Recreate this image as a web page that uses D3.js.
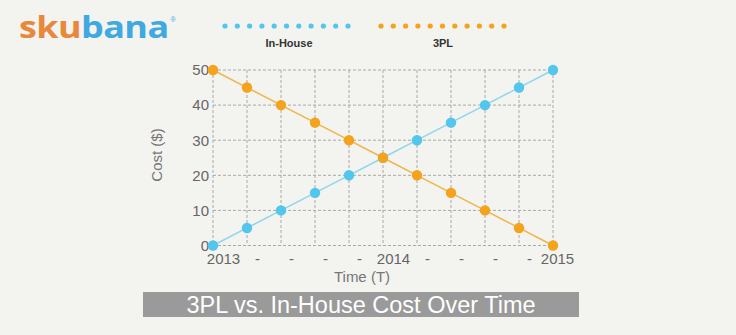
<!DOCTYPE html>
<html>
<head>
<meta charset="utf-8">
<script src="https://cdn.jsdelivr.net/npm/d3@7"></script>
<style>
  html, body { margin: 0; padding: 0; background: #f3f3ef; }
  svg { display: block; }
</style>
</head>
<body>
<svg id="chart" width="736" height="335"></svg>
<script>
// Period labels along the time axis
const categories = ["2013", "-", "-", "-", "-", "2014", "-", "-", "-", "-", "2015"];
// Cost ($) per period
const inHouse = [0, 5, 10, 15, 20, 25, 30, 35, 40, 45, 50];
const thirdParty = [50, 45, 40, 35, 30, 25, 20, 15, 10, 5, 0];
const yTicks = [0, 10, 20, 30, 40, 50];
const seriesNames = ["In-House", "3PL"];

const svg = d3.select("#chart");
const W = 736, H = 335;

svg.append("rect").attr("width", W).attr("height", H).attr("fill", "#f3f3ef");

const blue = "#52c6ec", blueLine = "#8ed6ee";
const orange = "#f5a21c", orangeLine = "#f0b548";

const x = d3.scaleLinear().domain([0, categories.length - 1]).range([213, 553]);
const y = d3.scaleLinear().domain([0, 50]).range([245.5, 70]);

// Logo
const logo = svg.append("text")
  .attr("transform", "translate(19,38) scale(1.16,1)")
  .attr("font-family", "'Open Sans', Lato, sans-serif")
  .attr("font-weight", 700)
  .attr("font-size", 31)
  .attr("letter-spacing", -0.5);
logo.append("tspan").attr("fill", "#e8883c").text("sku");
logo.append("tspan").attr("fill", "#3fa9e0").text("bana");
const lw = logo.node().getBBox().width * 1.16;
svg.append("text").attr("x", 19 + lw + 2).attr("y", 22)
  .attr("font-family", "Liberation Sans, Arial, sans-serif")
  .attr("font-size", 7).attr("fill", "#3fa9e0").text("®");

// Legend: dotted swatches with labels beneath
const legend = [
  { name: seriesNames[0], color: blue, x0: 225, cx: 289 },
  { name: seriesNames[1], color: orange, x0: 381, cx: 443 }
];
legend.forEach(l => {
  const g = svg.append("g");
  g.selectAll("circle").data(d3.range(11)).join("circle")
    .attr("cx", i => l.x0 + i * 12.3).attr("cy", 26).attr("r", 2.6)
    .attr("fill", l.color);
  g.append("text").attr("x", l.cx).attr("y", 47)
    .attr("text-anchor", "middle")
    .attr("font-family", "Liberation Sans, Arial, sans-serif")
    .attr("font-weight", 700).attr("font-size", 11).attr("fill", "#333")
    .text(l.name);
});

// Grid
const grid = svg.append("g").attr("stroke", "#a8a8a8").attr("stroke-width", 1)
  .attr("stroke-dasharray", "3,2").attr("fill", "none");
grid.selectAll("line.v").data(d3.range(categories.length)).join("line")
  .attr("class", "v")
  .attr("x1", i => x(i)).attr("x2", i => x(i))
  .attr("y1", y(50)).attr("y2", y(0));
grid.selectAll("line.h").data(yTicks).join("line")
  .attr("class", "h")
  .attr("x1", x(0)).attr("x2", x(categories.length - 1))
  .attr("y1", d => y(d)).attr("y2", d => y(d));

// Axes (labels only; the grid draws the frame)
const yAxis = svg.append("g").attr("transform", `translate(${x(0)},0)`)
  .call(d3.axisLeft(y).tickValues(yTicks).tickSize(0).tickPadding(4));
yAxis.select(".domain").remove();
yAxis.selectAll("text")
  .attr("font-family", "Liberation Sans, Arial, sans-serif")
  .attr("font-size", 15).attr("fill", "#666");

const last = categories.length - 1;
const xAxis = svg.append("g").attr("transform", `translate(0,${y(0)})`)
  .call(d3.axisBottom(x).tickValues(d3.range(categories.length))
    .tickFormat(i => categories[i]).tickSize(0).tickPadding(8));
xAxis.select(".domain").remove();
xAxis.selectAll("text")
  .attr("dx", i => i === last ? 4 : 10)
  .attr("font-family", "Liberation Sans, Arial, sans-serif")
  .attr("font-size", 15).attr("fill", "#666");

// Axis titles
svg.append("text")
  .attr("transform", "translate(162,155) rotate(-90)")
  .attr("text-anchor", "middle")
  .attr("font-family", "Liberation Sans, Arial, sans-serif")
  .attr("font-size", 15).attr("fill", "#777")
  .text("Cost ($)");
svg.append("text").attr("x", 362).attr("y", 282)
  .attr("text-anchor", "middle")
  .attr("font-family", "Liberation Sans, Arial, sans-serif")
  .attr("font-size", 15).attr("fill", "#777")
  .text("Time (T)");

// Series
const line = d3.line().x((d, i) => x(i)).y(d => y(d));
const series = [
  { values: inHouse, color: blue, lineColor: blueLine },
  { values: thirdParty, color: orange, lineColor: orangeLine }
];
series.forEach(s => {
  svg.append("path").datum(s.values).attr("d", line)
    .attr("fill", "none").attr("stroke", s.lineColor).attr("stroke-width", 1.5);
});
series.forEach(s => {
  svg.append("g").selectAll("circle").data(s.values).join("circle")
    .attr("cx", (d, i) => x(i)).attr("cy", d => y(d)).attr("r", 5.2)
    .attr("fill", s.color);
});

// Title banner
svg.append("rect").attr("x", 143).attr("y", 292).attr("width", 436).attr("height", 25)
  .attr("fill", "#9a9a9a");
svg.append("text").attr("x", 361).attr("y", 313)
  .attr("text-anchor", "middle")
  .attr("font-family", "Liberation Sans, Arial, sans-serif")
  .attr("font-size", 23.5).attr("fill", "#fff")
  .text("3PL vs. In-House Cost Over Time");
</script>
</body>
</html>
